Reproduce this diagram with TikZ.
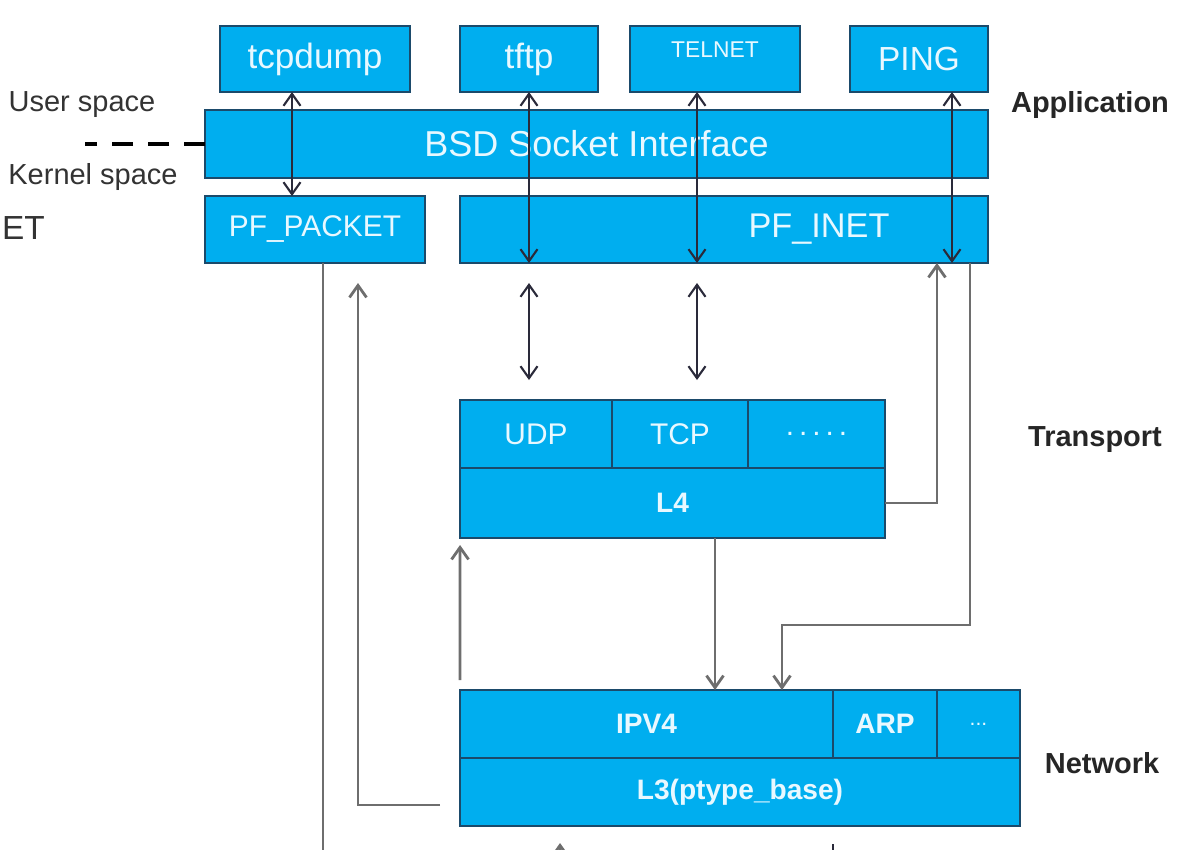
\documentclass[tikz,border=0pt]{standalone}
\usepackage{fontspec}
\setmainfont{Liberation Sans}
\usepackage{tikz}
\usetikzlibrary{arrows.meta,positioning}
\definecolor{boxfill}{HTML}{00AEEF}
\definecolor{boxline}{HTML}{1B4A6B}
\definecolor{boxtext}{HTML}{E8F8FF}
\definecolor{darkline}{HTML}{2A2A3A}
\definecolor{grayline}{HTML}{6E6E6E}
\definecolor{labeltext}{HTML}{333333}

\begin{document}
\begin{tikzpicture}[x=0.02cm, y=-0.02cm,
    >={Straight Barb[length=0.24cm,width=0.34cm]},
    box/.style={rectangle, draw=boxline, fill=boxfill, line width=0.9pt, outer sep=0pt,
        inner sep=0pt, text=boxtext, font=\fontsize{17}{20}\selectfont},
    appbox/.style={box, minimum height=1.32cm, font=\fontsize{20}{24}\selectfont},
    bandbox/.style={box, minimum height=1.36cm},
    layerbox/.style={box, minimum height=1.36cm, font=\bfseries\fontsize{16}{19}\selectfont},
    sidetext/.style={text=labeltext, font=\fontsize{16.5}{19}\selectfont},
    layertext/.style={text=black!85, font=\bfseries\fontsize{16.5}{19}\selectfont},
    darr/.style={<->, darkline, line width=1.2pt},
    garr/.style={->, grayline, line width=1.6pt}]
  \useasboundingbox (0,0) rectangle (1200,849);
  \clip (0,0) rectangle (1200,849);

  % user space applications
  \node[appbox, minimum width=3.8cm] (tcpdump) at (315,59) {tcpdump};
  \node[appbox, minimum width=2.76cm] (tftp) at (529,59) {tftp};
  \node[appbox, minimum width=3.4cm, text depth=0.36cm, font=\fontsize{13}{15}\selectfont] (telnet) at (715,59) {TELNET};
  \node[appbox, minimum width=2.76cm, font=\fontsize{19}{22}\selectfont] (ping) at (919,59) {PING};

  % socket layer
  \node[bandbox, minimum width=15.66cm, font=\fontsize{20.5}{24}\selectfont] (bsd) at (596.5,144) {BSD Socket Interface};
  \node[bandbox, minimum width=4.4cm, minimum height=1.34cm] (pfpacket) at (315,229.5) {PF\_PACKET};
  \node[bandbox, minimum width=10.56cm, minimum height=1.34cm] (pfinet) at (724,229.5) {};
  \node[text=boxtext, font=\fontsize{19.5}{23}\selectfont] (pfinettext) at (819,229.5) {PF\_INET};

  % transport
  \node[box, minimum width=3.04cm, minimum height=1.36cm] (udp) at (536,434) {UDP};
  \node[box, minimum width=2.72cm, minimum height=1.36cm, right=0pt of udp] (tcp) {TCP};
  \node[box, minimum width=2.74cm, minimum height=1.36cm, right=0pt of tcp] (tdots) {.\,.\,.\,.\,.};
  \node[layerbox, minimum width=8.5cm, minimum height=1.4cm] (l4) at (672.5,503) {L4};

  % network
  \node[layerbox, minimum width=7.46cm] (ipv4) at (646.5,724) {IPV4};
  \node[layerbox, minimum width=2.08cm, right=0pt of ipv4] (arp) {ARP};
  \node[box, minimum width=1.66cm, minimum height=1.36cm, right=0pt of arp, font=\fontsize{12}{14}\selectfont] (ndots) {...};
  \node[layerbox, minimum width=11.2cm] (l3) at (740,792) {L3(ptype\_base)};

  % side labels
  \node[sidetext] (user) at (82,105) {User space};
  \node[sidetext] (kernel) at (93,177) {Kernel space};
  \node[text=labeltext, font=\fontsize{19}{22}\selectfont, anchor=west, inner sep=1pt] (cut) at (0,228) {ET};
  \node[layertext] (app) at (1090,105) {Application};
  \node[layertext] (trans) at (1095,440) {Transport};
  \node[layertext] (net) at (1102,763) {Network};
  \draw[line width=2.3pt, dash pattern=on 0.42cm off 0.3cm] (bsd.west) -- ++(-120,0);

  % socket calls
  \coordinate (td) at ([xshift=-0.46cm]tcpdump.south);
  \coordinate (tf) at (tftp.south);
  \coordinate (tn) at ([xshift=-0.36cm]telnet.south);
  \coordinate (pg) at ([xshift=0.66cm]ping.south);
  \draw[darr] (td) -- (td |- pfpacket.north);
  \draw[darr] (tf) -- (tf |- pfinet.south);
  \draw[darr] (tn) -- (tn |- pfinet.south);
  \draw[darr] (pg) -- (pg |- pfinet.south);
  \draw[darr, shorten <=0.4cm, shorten >=0.4cm] (tf |- pfinet.south) -- (tf |- udp.north);
  \draw[darr, shorten <=0.4cm, shorten >=0.4cm] (tn |- pfinet.south) -- (tn |- udp.north);

  % packet paths
  \coordinate (l4d) at ([xshift=0.85cm]l4.south);
  \draw[garr] (l4d) -- (l4d |- ipv4.north);
  \draw[garr] (l4.east) -| ([xshift=4.26cm]pfinet.south);
  \draw[garr] ([xshift=4.92cm]pfinet.south) |- ([xshift=2.71cm, yshift=1.3cm]ipv4.north) -- ([xshift=2.71cm]ipv4.north);
  \draw[garr] ([yshift=0.2cm]ipv4.north west) -- ([yshift=-0.14cm]l4.south west);
  \draw[garr] ([xshift=-0.4cm, yshift=-0.26cm]l3.west) -| ([xshift=0.86cm, yshift=-0.4cm]pfpacket.south);
  \draw[grayline, line width=1.6pt] ([xshift=0.16cm]pfpacket.south) -- ++(0,620);
  \draw[garr] ([xshift=-3.6cm, yshift=-0.6cm]l3.south) -- ([xshift=-3.6cm, yshift=-0.34cm]l3.south);
  \draw[darkline, line width=1.5pt] ([xshift=1.86cm, yshift=-0.36cm]l3.south) -- ++(0,40);
\end{tikzpicture}
\end{document}
